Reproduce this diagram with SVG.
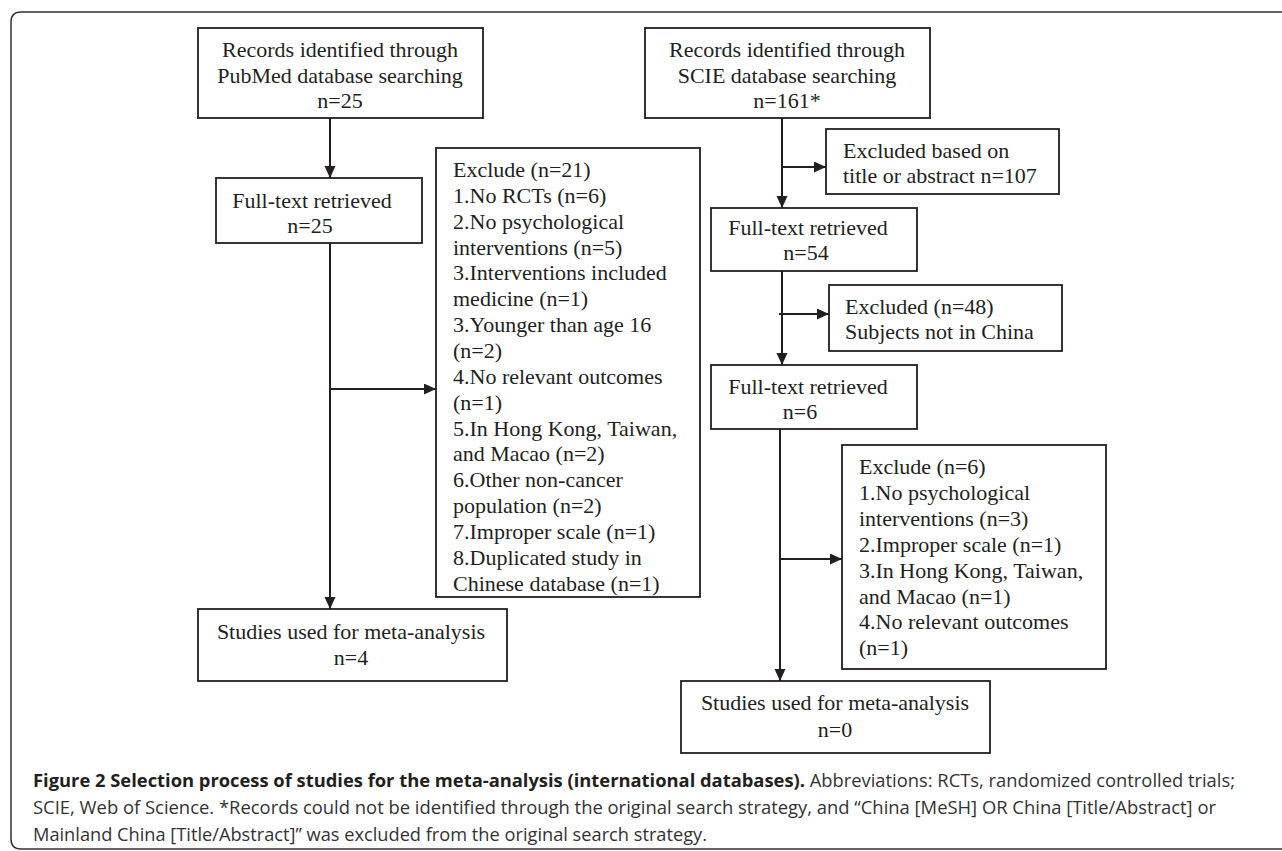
<svg xmlns="http://www.w3.org/2000/svg" width="1282" height="851" viewBox="0 0 1282 851">
<style>
.box{fill:#fff;stroke:#231f20;stroke-width:1.8}
.t{font-family:"Liberation Serif","Times New Roman",serif;font-size:22px;fill:#231f20}
.c{text-anchor:middle}
.ln{fill:none;stroke:#231f20;stroke-width:2}
.cap{font-family:"Open Sans","Noto Sans",sans-serif;font-size:18px;fill:#333}
.b{font-weight:bold;fill:#231f20}
</style>
<defs>
<marker id="ah" markerUnits="userSpaceOnUse" markerWidth="13" markerHeight="12" refX="12" refY="5.5" orient="auto">
<path d="M0,0 L12,5.5 L0,11 z" fill="#231f20"/>
</marker>
</defs>
<rect width="1282" height="851" fill="#fff"/>
<path d="M1290,12 H21 Q11,12 11,22 V839 Q11,849 21,849 H1290" fill="none" stroke="#333" stroke-width="1.5"/>

<g id="connectors">
<line class="ln" x1="330" y1="118" x2="330" y2="178" marker-end="url(#ah)"/>
<line class="ln" x1="330" y1="243" x2="330" y2="609" marker-end="url(#ah)"/>
<line class="ln" x1="330" y1="389" x2="436" y2="389" marker-end="url(#ah)"/>
<line class="ln" x1="782" y1="118" x2="782" y2="208" marker-end="url(#ah)"/>
<line class="ln" x1="782" y1="167" x2="826" y2="167" marker-end="url(#ah)"/>
<line class="ln" x1="782" y1="271" x2="782" y2="365" marker-end="url(#ah)"/>
<line class="ln" x1="779" y1="314" x2="829" y2="314" marker-end="url(#ah)"/>
<line class="ln" x1="780" y1="429" x2="780" y2="681" marker-end="url(#ah)"/>
<line class="ln" x1="780" y1="559" x2="842" y2="559" marker-end="url(#ah)"/>
</g>

<g id="pubmed">
<rect class="box" x="198" y="28" width="285" height="90"/>
<text class="t c" x="340" y="57">Records identified through</text>
<text class="t c" x="340" y="83">PubMed database searching</text>
<text class="t c" x="340" y="108">n=25</text>
</g>

<g id="fulltext1">
<rect class="box" x="216" y="178" width="206" height="65"/>
<text class="t c" x="312" y="208">Full-text retrieved</text>
<text class="t c" x="310" y="233">n=25</text>
</g>

<g id="exclude21">
<rect class="box" x="436" y="148" width="264" height="449"/>
<text class="t" x="453" y="177">Exclude (n=21)</text>
<text class="t" x="453" y="202.9">1.No RCTs (n=6)</text>
<text class="t" x="453" y="228.7">2.No psychological</text>
<text class="t" x="453" y="254.6">interventions (n=5)</text>
<text class="t" x="453" y="280.4">3.Interventions included</text>
<text class="t" x="453" y="306.3">medicine (n=1)</text>
<text class="t" x="453" y="332.1">3.Younger than age 16</text>
<text class="t" x="453" y="358">(n=2)</text>
<text class="t" x="453" y="383.8">4.No relevant outcomes</text>
<text class="t" x="453" y="409.7">(n=1)</text>
<text class="t" x="453" y="435.5">5.In Hong Kong, Taiwan,</text>
<text class="t" x="453" y="461.4">and Macao (n=2)</text>
<text class="t" x="453" y="487.2">6.Other non-cancer</text>
<text class="t" x="453" y="513.1">population (n=2)</text>
<text class="t" x="453" y="538.9">7.Improper scale (n=1)</text>
<text class="t" x="453" y="564.8">8.Duplicated study in</text>
<text class="t" x="453" y="590.6">Chinese database (n=1)</text>
</g>

<g id="studies4">
<rect class="box" x="198" y="609" width="309" height="72"/>
<text class="t c" x="351" y="639">Studies used for meta-analysis</text>
<text class="t c" x="351" y="665">n=4</text>
</g>

<g id="scie">
<rect class="box" x="645" y="28" width="285" height="90"/>
<text class="t c" x="787" y="57">Records identified through</text>
<text class="t c" x="787" y="83">SCIE database searching</text>
<text class="t c" x="787" y="108">n=161*</text>
</g>

<g id="excluded107">
<rect class="box" x="826" y="129" width="233" height="65"/>
<text class="t" x="843" y="158">Excluded based on</text>
<text class="t" x="843" y="183">title or abstract n=107</text>
</g>

<g id="fulltext2">
<rect class="box" x="711" y="208" width="206" height="63"/>
<text class="t c" x="808" y="235">Full-text retrieved</text>
<text class="t c" x="806" y="260">n=54</text>
</g>

<g id="excluded48">
<rect class="box" x="829" y="285" width="233" height="66"/>
<text class="t" x="845" y="314">Excluded (n=48)</text>
<text class="t" x="845" y="339">Subjects not in China</text>
</g>

<g id="fulltext3">
<rect class="box" x="711" y="365" width="206" height="64"/>
<text class="t c" x="808" y="394">Full-text retrieved</text>
<text class="t c" x="800" y="419">n=6</text>
</g>

<g id="exclude6">
<rect class="box" x="842" y="445" width="264" height="224"/>
<text class="t" x="859" y="474">Exclude (n=6)</text>
<text class="t" x="859" y="500">1.No psychological</text>
<text class="t" x="859" y="526">interventions (n=3)</text>
<text class="t" x="859" y="552">2.Improper scale (n=1)</text>
<text class="t" x="859" y="578">3.In Hong Kong, Taiwan,</text>
<text class="t" x="859" y="604">and Macao (n=1)</text>
<text class="t" x="859" y="629">4.No relevant outcomes</text>
<text class="t" x="859" y="655">(n=1)</text>
</g>

<g id="studies0">
<rect class="box" x="681" y="681" width="309" height="72"/>
<text class="t c" x="835" y="710">Studies used for meta-analysis</text>
<text class="t c" x="835" y="737">n=0</text>
</g>

<g id="caption">
<text class="cap" x="33" y="787" textLength="1202" lengthAdjust="spacingAndGlyphs"><tspan class="b">Figure 2 Selection process of studies for the meta-analysis (international databases).</tspan> Abbreviations: RCTs, randomized controlled trials;</text>
<text class="cap" x="33" y="814" textLength="1183" lengthAdjust="spacingAndGlyphs">SCIE, Web of Science. *Records could not be identified through the original search strategy, and “China [MeSH] OR China [Title/Abstract] or</text>
<text class="cap" x="33" y="841" textLength="674" lengthAdjust="spacingAndGlyphs">Mainland China [Title/Abstract]” was excluded from the original search strategy.</text>
</g>
</svg>
